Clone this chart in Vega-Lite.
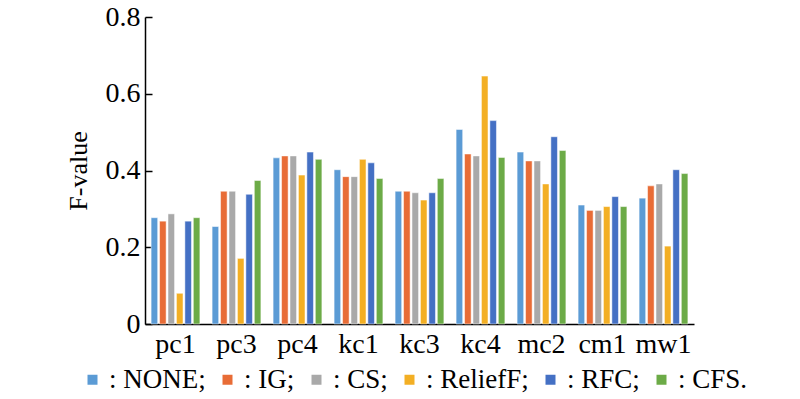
{
  "$schema": "https://vega.github.io/schema/vega-lite/v6.json",
  "width": 549,
  "height": 307,
  "autosize": {"type": "none"},
  "padding": {"left": 145, "top": 17, "right": 106, "bottom": 75},
  "background": "white",
  "config": {
    "view": {"stroke": null},
    "font": "Liberation Serif",
    "axis": {"grid": false, "domainColor": "black", "domainWidth": 1.5, "labelColor": "black", "titleColor": "black", "labelFont": "Liberation Serif", "titleFont": "Liberation Serif"}
  },
  "data": {
    "values": [
      {"dataset": "pc1", "method": "NONE", "f": 0.277},
      {"dataset": "pc1", "method": "IG", "f": 0.268},
      {"dataset": "pc1", "method": "CS", "f": 0.287},
      {"dataset": "pc1", "method": "ReliefF", "f": 0.080},
      {"dataset": "pc1", "method": "RFC", "f": 0.268},
      {"dataset": "pc1", "method": "CFS", "f": 0.277},
      {"dataset": "pc3", "method": "NONE", "f": 0.254},
      {"dataset": "pc3", "method": "IG", "f": 0.346},
      {"dataset": "pc3", "method": "CS", "f": 0.346},
      {"dataset": "pc3", "method": "ReliefF", "f": 0.171},
      {"dataset": "pc3", "method": "RFC", "f": 0.338},
      {"dataset": "pc3", "method": "CFS", "f": 0.374},
      {"dataset": "pc4", "method": "NONE", "f": 0.433},
      {"dataset": "pc4", "method": "IG", "f": 0.438},
      {"dataset": "pc4", "method": "CS", "f": 0.438},
      {"dataset": "pc4", "method": "ReliefF", "f": 0.388},
      {"dataset": "pc4", "method": "RFC", "f": 0.448},
      {"dataset": "pc4", "method": "CFS", "f": 0.429},
      {"dataset": "kc1", "method": "NONE", "f": 0.402},
      {"dataset": "kc1", "method": "IG", "f": 0.384},
      {"dataset": "kc1", "method": "CS", "f": 0.384},
      {"dataset": "kc1", "method": "ReliefF", "f": 0.429},
      {"dataset": "kc1", "method": "RFC", "f": 0.420},
      {"dataset": "kc1", "method": "CFS", "f": 0.379},
      {"dataset": "kc3", "method": "NONE", "f": 0.346},
      {"dataset": "kc3", "method": "IG", "f": 0.346},
      {"dataset": "kc3", "method": "CS", "f": 0.342},
      {"dataset": "kc3", "method": "ReliefF", "f": 0.323},
      {"dataset": "kc3", "method": "RFC", "f": 0.342},
      {"dataset": "kc3", "method": "CFS", "f": 0.379},
      {"dataset": "kc4", "method": "NONE", "f": 0.507},
      {"dataset": "kc4", "method": "IG", "f": 0.443},
      {"dataset": "kc4", "method": "CS", "f": 0.438},
      {"dataset": "kc4", "method": "ReliefF", "f": 0.646},
      {"dataset": "kc4", "method": "RFC", "f": 0.530},
      {"dataset": "kc4", "method": "CFS", "f": 0.434},
      {"dataset": "mc2", "method": "NONE", "f": 0.448},
      {"dataset": "mc2", "method": "IG", "f": 0.425},
      {"dataset": "mc2", "method": "CS", "f": 0.425},
      {"dataset": "mc2", "method": "ReliefF", "f": 0.365},
      {"dataset": "mc2", "method": "RFC", "f": 0.488},
      {"dataset": "mc2", "method": "CFS", "f": 0.452},
      {"dataset": "cm1", "method": "NONE", "f": 0.310},
      {"dataset": "cm1", "method": "IG", "f": 0.296},
      {"dataset": "cm1", "method": "CS", "f": 0.296},
      {"dataset": "cm1", "method": "ReliefF", "f": 0.306},
      {"dataset": "cm1", "method": "RFC", "f": 0.332},
      {"dataset": "cm1", "method": "CFS", "f": 0.306},
      {"dataset": "mw1", "method": "NONE", "f": 0.328},
      {"dataset": "mw1", "method": "IG", "f": 0.360},
      {"dataset": "mw1", "method": "CS", "f": 0.365},
      {"dataset": "mw1", "method": "ReliefF", "f": 0.203},
      {"dataset": "mw1", "method": "RFC", "f": 0.402},
      {"dataset": "mw1", "method": "CFS", "f": 0.392}
    ]
  },
  "mark": {"type": "bar", "stroke": "white", "strokeWidth": 0.5},
  "encoding": {
    "x": {
      "field": "dataset", "type": "nominal", "sort": null,
      "scale": {"paddingInner": 0.2, "paddingOuter": 0.1},
      "axis": {"title": null, "labelAngle": 0, "ticks": false, "labelFontSize": 28, "labelPadding": 6}
    },
    "xOffset": {
      "field": "method", "type": "nominal",
      "sort": ["NONE", "IG", "CS", "ReliefF", "RFC", "CFS"],
      "scale": {"paddingInner": 0.22}
    },
    "y": {
      "field": "f", "type": "quantitative",
      "scale": {"domain": [0, 0.8], "nice": false},
      "axis": {
        "title": "F-value", "titleFontSize": 26, "titleFontWeight": "normal", "titlePadding": 14,
        "values": [0, 0.2, 0.4, 0.6, 0.8],
        "labelExpr": "datum.value == 0 ? '0' : format(datum.value, '.1f')",
        "labelFontSize": 28, "tickSize": -7, "tickColor": "black", "tickWidth": 1.5, "labelPadding": 12
      }
    },
    "color": {
      "field": "method", "type": "nominal",
      "scale": {
        "domain": ["NONE", "IG", "CS", "ReliefF", "RFC", "CFS"],
        "range": ["#5B9BD5", "#E86C36", "#A9A9A9", "#F3AF24", "#4470C4", "#6CAB47"]
      },
      "legend": {
        "title": null, "orient": "none", "direction": "horizontal",
        "legendX": -66, "legendY": 349,
        "symbolType": "square", "symbolSize": 100, "symbolStrokeWidth": 0,
        "labelFontSize": 27, "labelFont": "Liberation Serif", "labelColor": "black",
        "labelOffset": 3, "columnPadding": 8, "labelLimit": 300,
        "labelExpr": "datum.label == 'CFS' ? ': CFS.' : ': ' + datum.label + ';'"
      }
    }
  }
}
